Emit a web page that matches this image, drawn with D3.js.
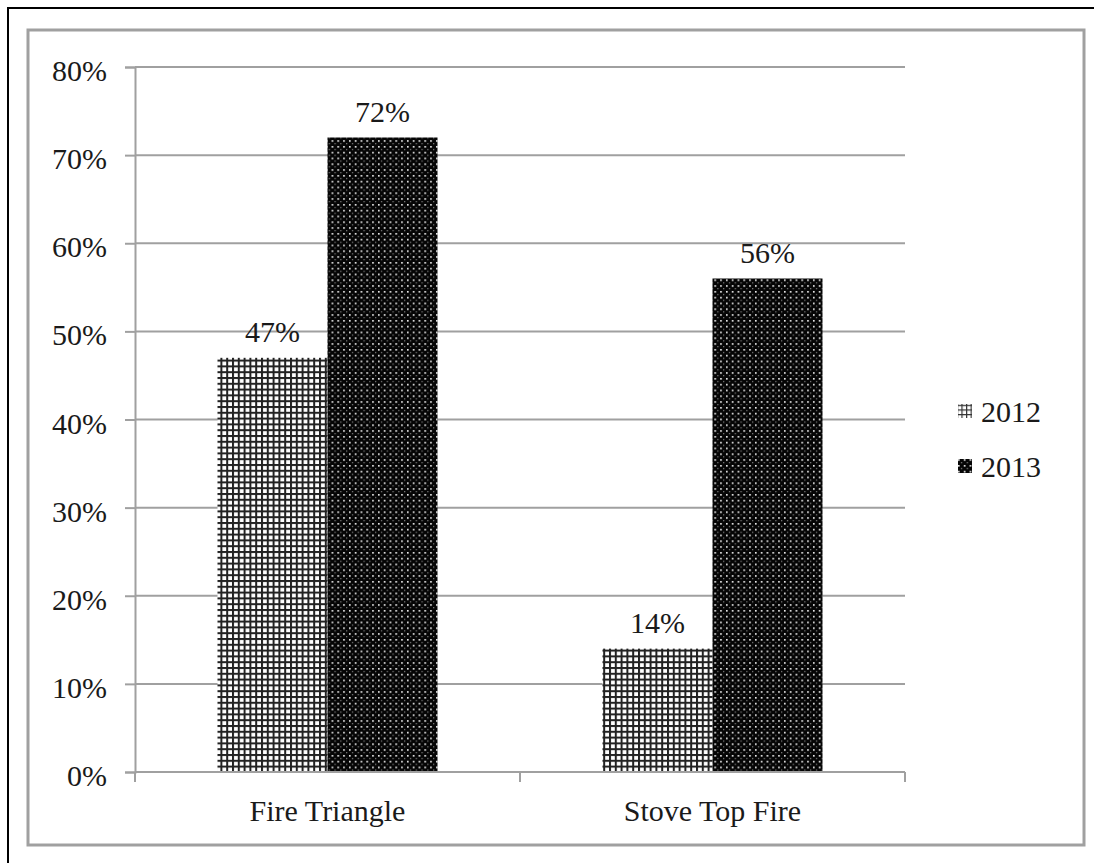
<!DOCTYPE html>
<html>
<head>
<meta charset="utf-8">
<script src="https://cdn.jsdelivr.net/npm/d3@7"></script>
<style>
  html, body { margin: 0; padding: 0; background: #fff; }
  svg { display: block; }
  text { font-family: "Liberation Serif", "DejaVu Serif", serif; fill: #1a1a1a; }
</style>
</head>
<body>
<script>
// Survey results by topic and year
const categories = ["Fire Triangle", "Stove Top Fire"];
const years = ["2012", "2013"];
const values2012 = [0.47, 0.14];
const values2013 = [0.72, 0.56];
const yTicks = [0, 0.1, 0.2, 0.3, 0.4, 0.5, 0.6, 0.7, 0.8];

const W = 1094, H = 863;
const plot = { left: 135, right: 905, top: 67, bottom: 772 };
const fontSize = 30;
const font = "Liberation Serif";

const svg = d3.select("body").append("svg").attr("width", W).attr("height", H);
const defs = svg.append("defs");

// Fill patterns: small grid for 2012, black with white dots for 2013
const p = 5.8;
const grid = defs.append("pattern").attr("id", "pat2012")
  .attr("patternUnits", "userSpaceOnUse").attr("width", p).attr("height", p);
grid.append("rect").attr("width", p).attr("height", p).attr("fill", "#fff");
grid.append("rect").attr("x", 0).attr("y", 0).attr("width", 2).attr("height", p).attr("fill", "#222");
grid.append("rect").attr("x", 0).attr("y", 0).attr("width", p).attr("height", 2).attr("fill", "#222");

const dots = defs.append("pattern").attr("id", "pat2013")
  .attr("patternUnits", "userSpaceOnUse").attr("width", p).attr("height", p);
dots.append("rect").attr("width", p).attr("height", p).attr("fill", "#050505");
dots.append("rect").attr("x", 1).attr("y", 1).attr("width", 1.6).attr("height", 1.6).attr("fill", "#fff");
dots.append("rect").attr("x", 3.9).attr("y", 3.9).attr("width", 1.2).attr("height", 1.2).attr("fill", "#888");

// Legend key patterns (coarser, as drawn in the legend)
const kp = 4.6;
const key12 = defs.append("pattern").attr("id", "key2012")
  .attr("patternUnits", "userSpaceOnUse").attr("width", kp).attr("height", kp);
key12.append("rect").attr("width", kp).attr("height", kp).attr("fill", "#fff");
key12.append("rect").attr("x", 0).attr("width", 1.2).attr("height", kp).attr("fill", "#333");
key12.append("rect").attr("y", 0).attr("width", kp).attr("height", 1.2).attr("fill", "#333");

// Frames
svg.append("path").attr("d", `M${W},8 H8 V${H}`).attr("fill", "none")
  .attr("stroke", "#000").attr("stroke-width", 2);
svg.append("rect").attr("x", 28).attr("y", 30).attr("width", 1056).attr("height", 815)
  .attr("fill", "none").attr("stroke", "#a0a0a0").attr("stroke-width", 3);

const x = d3.scaleBand().domain(categories).range([plot.left, plot.right]);
const barW = x.bandwidth() / 3.5; // 150% gap width
const y = d3.scaleLinear().domain([0, 0.8]).range([plot.bottom, plot.top]);

// Gridlines
svg.append("g").selectAll("line").data(yTicks.slice(1)).join("line")
  .attr("x1", plot.left).attr("x2", plot.right)
  .attr("y1", d => y(d)).attr("y2", d => y(d))
  .attr("stroke", "#a0a0a0").attr("stroke-width", 2);

// Y axis
const yAxis = svg.append("g").attr("transform", `translate(${plot.left},0)`)
  .call(d3.axisLeft(y).tickValues(yTicks).tickFormat(d3.format(".0%")).tickSize(10).tickPadding(18));
yAxis.select(".domain").attr("stroke", "#a0a0a0").attr("stroke-width", 2);
yAxis.selectAll(".tick line").attr("stroke", "#a0a0a0").attr("stroke-width", 2);
yAxis.selectAll(".tick text").attr("font-size", fontSize)
  .attr("font-family", font).attr("fill", "#1a1a1a").attr("dy", "0.45em");

const series = [
  { key: "2012", vals: values2012, fill: "url(#pat2012)", keyFill: "url(#key2012)", off: 0 },
  { key: "2013", vals: values2013, fill: "url(#pat2013)", keyFill: "url(#pat2013)", off: 1 }
];

// Bars and value labels
series.forEach(s => {
  svg.append("g").selectAll("rect").data(categories).join("rect")
    .attr("x", c => x(c) + barW * 0.75 + s.off * barW)
    .attr("y", (c, i) => y(s.vals[i]))
    .attr("width", barW)
    .attr("height", (c, i) => y(0) - y(s.vals[i]))
    .attr("fill", s.fill);
  svg.append("g").selectAll("text").data(categories).join("text")
    .attr("x", c => x(c) + barW * 0.75 + s.off * barW + barW / 2)
    .attr("y", (c, i) => y(s.vals[i]) - 16)
    .attr("text-anchor", "middle").attr("font-size", fontSize)
    .text((c, i) => d3.format(".0%")(s.vals[i]));
});

// X axis
const xAxis = svg.append("g").attr("transform", `translate(0,${plot.bottom})`)
  .call(d3.axisBottom(x).tickSize(0).tickPadding(0));
xAxis.select(".domain").remove();
xAxis.append("line").attr("x1", plot.left).attr("x2", plot.right)
  .attr("stroke", "#a0a0a0").attr("stroke-width", 2);
xAxis.selectAll(".bound").data([plot.left, x(categories[1]), plot.right]).join("line")
  .attr("class", "bound").attr("x1", d => d).attr("x2", d => d).attr("y1", 0).attr("y2", 10)
  .attr("stroke", "#a0a0a0").attr("stroke-width", 2);
xAxis.selectAll(".tick text").attr("font-size", fontSize)
  .attr("font-family", font).attr("fill", "#1a1a1a")
  .attr("y", 49).attr("dy", 0);

// Legend
const legend = svg.append("g");
series.forEach((s, i) => {
  const base = 422 + i * 55;
  legend.append("rect").attr("x", 958).attr("y", base - 18).attr("width", 14).attr("height", 14)
    .attr("fill", s.keyFill);
  legend.append("text").attr("x", 981).attr("y", base).attr("font-size", fontSize).text(s.key);
});
</script>
</body>
</html>
